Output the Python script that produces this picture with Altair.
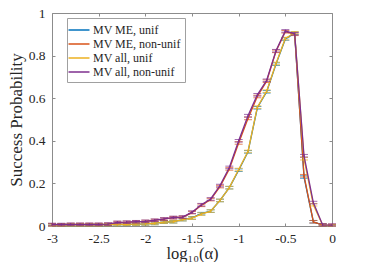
import altair as alt
import pandas as pd

x_vals = [-3.0, -2.9, -2.8, -2.7, -2.6, -2.5, -2.4, -2.3, -2.2, -2.1, -2.0,
          -1.9, -1.8, -1.7, -1.6, -1.5, -1.4, -1.3, -1.2, -1.1, -1.0,
          -0.9, -0.8, -0.7, -0.6, -0.5, -0.4, -0.3, -0.2, -0.1, 0.0]

me_unif = [0.003, 0.004, 0.004, 0.005, 0.005, 0.005, 0.006, 0.006, 0.008, 0.009, 0.010,
           0.012, 0.018, 0.020, 0.030, 0.038, 0.058, 0.070, 0.120, 0.180, 0.262,
           0.348, 0.555, 0.630, 0.760, 0.878, 0.905, 0.230, 0.020, 0.004, 0.001]
me_nonunif = [0.006, 0.006, 0.007, 0.007, 0.007, 0.007, 0.008, 0.016, 0.017, 0.019, 0.021,
              0.026, 0.032, 0.039, 0.041, 0.063, 0.097, 0.124, 0.185, 0.268, 0.390,
              0.505, 0.608, 0.680, 0.820, 0.912, 0.900, 0.236, 0.020, 0.004, 0.003]
all_unif = [0.003, 0.004, 0.004, 0.005, 0.005, 0.005, 0.006, 0.006, 0.008, 0.009, 0.010,
            0.012, 0.018, 0.020, 0.030, 0.037, 0.056, 0.070, 0.120, 0.180, 0.265,
            0.350, 0.558, 0.633, 0.763, 0.880, 0.907, 0.316, 0.100, 0.004, 0.001]
all_nonunif = [0.007, 0.007, 0.008, 0.008, 0.008, 0.008, 0.009, 0.017, 0.018, 0.020, 0.022,
               0.027, 0.033, 0.040, 0.042, 0.065, 0.100, 0.127, 0.190, 0.275, 0.400,
               0.518, 0.616, 0.684, 0.823, 0.916, 0.902, 0.330, 0.110, 0.005, 0.004]

names = ["MV ME, unif", "MV ME, non-unif", "MV all, unif", "MV all, non-unif"]
colors = ["#0072BD", "#D95319", "#EDB120", "#7E2F8E"]
series = [me_unif, me_nonunif, all_unif, all_nonunif]
err = 0.006

x_ticks = [-3, -2.5, -2, -1.5, -1, -0.5, 0]
y_ticks = [0, 0.2, 0.4, 0.6, 0.8, 1]

rows = []
for name, ys in zip(names, series):
    for xv, yv in zip(x_vals, ys):
        rows.append({"series": name, "x": xv, "y": yv,
                     "lo": max(yv - err, 0), "hi": yv + err})
df = pd.DataFrame(rows)

FONT = "Liberation Serif, Times New Roman, serif"
AX = "#8c8c8c"
TXT = "#262626"

xscale = alt.Scale(domain=[-3, 0], nice=False)
yscale = alt.Scale(domain=[0, 1], nice=False)
cscale = alt.Scale(domain=names, range=colors)

main_x_axis = alt.Axis(values=x_ticks, title="log₁₀(α)", domain=False, grid=False,
                       offset=-3, tickSize=3, tickColor=AX, labelPadding=5,
                       format="~g", labelFlush=False,
                       labelExpr="replace(datum.label, '−', '-')",
                       labelFont=FONT, labelFontSize=13.5, labelColor=TXT,
                       titleFont=FONT, titleFontSize=16.5, titleFontWeight="normal",
                       titleColor=TXT, titlePadding=1)
main_y_axis = alt.Axis(values=y_ticks, title="Success Probability", domain=False,
                       grid=False, offset=-3, tickSize=3, tickColor=AX,
                       labelPadding=7, format="~g", labelFlush=False,
                       labelFont=FONT, labelFontSize=13.5, labelColor=TXT,
                       titleFont=FONT, titleFontSize=17, titleFontWeight="normal",
                       titleColor=TXT, titlePadding=3)

layers = []
for i, name in enumerate(names):
    sub = alt.Chart(df).transform_filter(alt.datum.series == name)
    if i == 0:
        xa, ya = main_x_axis, main_y_axis
    else:
        xa, ya = None, None
    line = sub.mark_line(strokeWidth=1.3).encode(
        x=alt.X("x:Q", scale=xscale, axis=xa),
        y=alt.Y("y:Q", scale=yscale, axis=ya),
        color=alt.Color("series:N", scale=cscale,
                        legend=alt.Legend(title=None) if i == 0 else None),
    )
    bars = sub.mark_rule(strokeWidth=1).encode(
        x=alt.X("x:Q", scale=xscale, axis=None),
        y=alt.Y("lo:Q", scale=yscale, axis=None),
        y2="hi:Q",
        color=alt.Color("series:N", scale=cscale, legend=None),
    )
    cap_lo = sub.mark_tick(orient="horizontal", size=8, thickness=1).encode(
        x=alt.X("x:Q", scale=xscale, axis=None),
        y=alt.Y("lo:Q", scale=yscale, axis=None),
        color=alt.Color("series:N", scale=cscale, legend=None),
    )
    cap_hi = sub.mark_tick(orient="horizontal", size=8, thickness=1).encode(
        x=alt.X("x:Q", scale=xscale, axis=None),
        y=alt.Y("hi:Q", scale=yscale, axis=None),
        color=alt.Color("series:N", scale=cscale, legend=None),
    )
    layers += [line, bars, cap_lo, cap_hi]

# top/right inward ticks
frame = alt.Chart(df).mark_point(opacity=0).encode(
    x=alt.X("x:Q", scale=xscale,
            axis=alt.Axis(orient="top", values=x_ticks, labels=False, title=None,
                          domain=False, grid=False, offset=-3, tickSize=3, tickColor=AX)),
    y=alt.Y("y:Q", scale=yscale,
            axis=alt.Axis(orient="right", values=y_ticks, labels=False, title=None,
                          domain=False, grid=False, offset=-3, tickSize=3, tickColor=AX)),
)
layers.append(frame)

chart = alt.layer(*layers).resolve_axis(x="independent", y="independent").properties(
    width=280, height=213,
    autosize=alt.AutoSizeParams(type="none"),
    padding={"left": 44, "top": 5, "right": 30, "bottom": 36},
).configure(
    font=FONT
).configure_view(
    stroke=AX, strokeWidth=1
).configure_legend(
    orient="none", legendX=15, legendY=5,
    strokeColor="#a0a0a0", fillColor="white", padding=4,
    labelFont=FONT, labelFontSize=12, labelColor=TXT,
    symbolType="M-1.5,0H1.5", symbolSize=196, symbolStrokeWidth=1.5,
    rowPadding=0, labelOffset=6, cornerRadius=0,
)

chart.save("out.html", embed_options={"renderer": "svg", "actions": False})
